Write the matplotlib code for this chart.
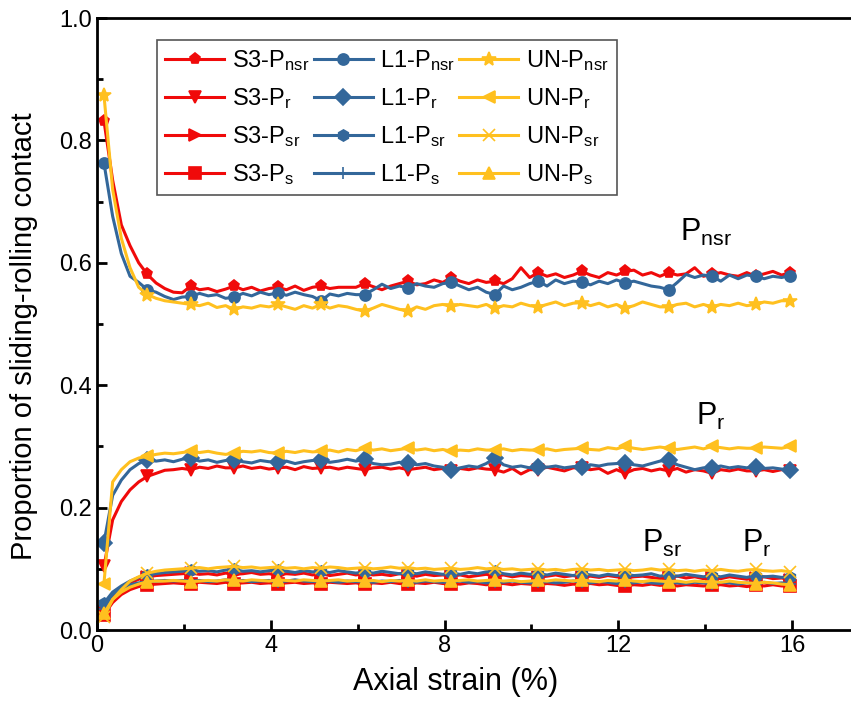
import numpy as np
import matplotlib
matplotlib.use("Agg")
import matplotlib.pyplot as plt
from matplotlib.ticker import MultipleLocator

plt.rcParams["font.family"] = ["Liberation Sans", "DejaVu Sans"]
plt.rcParams["mathtext.fontset"] = "custom"
plt.rcParams["mathtext.rm"] = "Liberation Sans"
plt.rcParams["mathtext.it"] = "Liberation Sans:italic"

# axial strain (%) sampling, 0.2 % steps
strain = np.round(0.16 + 0.2 * np.arange(80), 2)

# ---- S3 sample
s3_nsr = [0.832, 0.735, 0.662, 0.628, 0.600, 0.581, 0.567, 0.558, 0.552, 0.551,
          0.562, 0.556, 0.558, 0.553, 0.557, 0.562, 0.556, 0.560, 0.554, 0.558,
          0.560, 0.556, 0.562, 0.555, 0.560, 0.562, 0.558, 0.560, 0.560, 0.560,
          0.566, 0.561, 0.556, 0.562, 0.566, 0.570, 0.564, 0.566, 0.572, 0.568,
          0.576, 0.570, 0.566, 0.572, 0.568, 0.570, 0.566, 0.574, 0.592, 0.576,
          0.584, 0.578, 0.582, 0.576, 0.580, 0.586, 0.580, 0.576, 0.584, 0.580,
          0.586, 0.588, 0.580, 0.584, 0.578, 0.584, 0.580, 0.582, 0.592, 0.578,
          0.581, 0.584, 0.580, 0.578, 0.584, 0.578, 0.582, 0.586, 0.580, 0.584]
s3_r = [0.104, 0.180, 0.210, 0.229, 0.242, 0.251, 0.256, 0.261, 0.262, 0.264,
        0.262, 0.266, 0.264, 0.268, 0.265, 0.265, 0.268, 0.264, 0.266, 0.263,
        0.265, 0.266, 0.262, 0.267, 0.264, 0.265, 0.266, 0.263, 0.266, 0.264,
        0.262, 0.265, 0.266, 0.263, 0.265, 0.262, 0.264, 0.266, 0.262, 0.264,
        0.260, 0.264, 0.262, 0.265, 0.263, 0.262, 0.258, 0.264, 0.255, 0.262,
        0.262, 0.266, 0.263, 0.260, 0.265, 0.265, 0.262, 0.264, 0.256, 0.262,
        0.256, 0.262, 0.264, 0.260, 0.263, 0.260, 0.264, 0.258, 0.262, 0.260,
        0.256, 0.262, 0.260, 0.263, 0.260, 0.260, 0.262, 0.259, 0.262, 0.260]
s3_sr = [0.030, 0.055, 0.068, 0.077, 0.083, 0.087, 0.089, 0.090, 0.091, 0.092,
         0.093, 0.091, 0.092, 0.090, 0.093, 0.091, 0.092, 0.094, 0.091, 0.092,
         0.090, 0.092, 0.091, 0.093, 0.090, 0.092, 0.089, 0.091, 0.093, 0.090,
         0.092, 0.090, 0.091, 0.089, 0.092, 0.090, 0.088, 0.091, 0.089, 0.090,
         0.088, 0.090, 0.087, 0.089, 0.091, 0.088, 0.090, 0.087, 0.089, 0.088,
         0.086, 0.088, 0.090, 0.087, 0.089, 0.086, 0.088, 0.086, 0.089, 0.087,
         0.085, 0.087, 0.088, 0.086, 0.084, 0.086, 0.088, 0.085, 0.087, 0.084,
         0.086, 0.084, 0.087, 0.085, 0.083, 0.085, 0.087, 0.084, 0.085, 0.082]
s3_s = [0.025, 0.045, 0.058, 0.066, 0.071, 0.074, 0.075, 0.076, 0.077, 0.076,
        0.076, 0.078, 0.077, 0.076, 0.078, 0.076, 0.077, 0.078, 0.076, 0.077,
        0.076, 0.077, 0.078, 0.076, 0.077, 0.076, 0.078, 0.077, 0.076, 0.077,
        0.075, 0.077, 0.076, 0.078, 0.076, 0.075, 0.077, 0.076, 0.078, 0.076,
        0.076, 0.075, 0.077, 0.076, 0.074, 0.075, 0.076, 0.074, 0.076, 0.075,
        0.074, 0.076, 0.075, 0.073, 0.075, 0.074, 0.076, 0.074, 0.075, 0.073,
        0.072, 0.074, 0.073, 0.075, 0.073, 0.074, 0.072, 0.074, 0.073, 0.072,
        0.073, 0.074, 0.072, 0.073, 0.071, 0.073, 0.072, 0.074, 0.072, 0.072]

# ---- L1 sample
l1_nsr = [0.763, 0.676, 0.615, 0.578, 0.568, 0.556, 0.552, 0.545, 0.540, 0.544,
          0.545, 0.550, 0.546, 0.548, 0.542, 0.544, 0.550, 0.546, 0.552, 0.548,
          0.551, 0.547, 0.552, 0.548, 0.545, 0.538, 0.549, 0.546, 0.550, 0.548,
          0.548, 0.556, 0.565, 0.558, 0.562, 0.559, 0.566, 0.562, 0.560, 0.566,
          0.568, 0.562, 0.556, 0.560, 0.552, 0.548, 0.562, 0.556, 0.560, 0.566,
          0.570, 0.562, 0.572, 0.566, 0.570, 0.569, 0.564, 0.570, 0.566, 0.572,
          0.567, 0.570, 0.566, 0.562, 0.560, 0.556, 0.568, 0.581, 0.576, 0.580,
          0.578, 0.570, 0.580, 0.574, 0.580, 0.578, 0.574, 0.578, 0.576, 0.579]
l1_r = [0.143, 0.220, 0.245, 0.262, 0.272, 0.278, 0.276, 0.278, 0.275, 0.279,
        0.281, 0.276, 0.278, 0.274, 0.277, 0.278, 0.275, 0.273, 0.277, 0.275,
        0.274, 0.276, 0.272, 0.275, 0.277, 0.277, 0.274, 0.276, 0.279, 0.276,
        0.279, 0.272, 0.270, 0.271, 0.274, 0.273, 0.270, 0.272, 0.268, 0.266,
        0.262, 0.265, 0.268, 0.266, 0.272, 0.281, 0.270, 0.266, 0.268, 0.265,
        0.267, 0.266, 0.268, 0.265, 0.267, 0.267, 0.270, 0.268, 0.271, 0.272,
        0.273, 0.270, 0.268, 0.272, 0.276, 0.278, 0.270, 0.266, 0.262, 0.265,
        0.265, 0.268, 0.265, 0.267, 0.265, 0.267, 0.264, 0.265, 0.263, 0.262]
l1_sr = [0.044, 0.062, 0.072, 0.080, 0.086, 0.090, 0.092, 0.094, 0.095, 0.096,
         0.098, 0.096, 0.097, 0.095, 0.098, 0.099, 0.096, 0.097, 0.095, 0.097,
         0.098, 0.096, 0.094, 0.097, 0.095, 0.096, 0.094, 0.097, 0.095, 0.093,
         0.095, 0.093, 0.096, 0.094, 0.092, 0.094, 0.092, 0.095, 0.093, 0.091,
         0.093, 0.091, 0.094, 0.092, 0.095, 0.096, 0.092, 0.090, 0.093, 0.091,
         0.092, 0.090, 0.093, 0.091, 0.089, 0.092, 0.090, 0.088, 0.091, 0.089,
         0.091, 0.089, 0.090, 0.092, 0.088, 0.090, 0.088, 0.091, 0.089, 0.087,
         0.089, 0.087, 0.090, 0.088, 0.086, 0.089, 0.087, 0.088, 0.086, 0.087]
l1_s = [0.035, 0.058, 0.068, 0.074, 0.077, 0.079, 0.080, 0.081, 0.080, 0.081,
        0.080, 0.081, 0.079, 0.080, 0.082, 0.080, 0.081, 0.079, 0.080, 0.081,
        0.079, 0.080, 0.082, 0.080, 0.079, 0.081, 0.080, 0.078, 0.080, 0.079,
        0.080, 0.078, 0.080, 0.079, 0.081, 0.079, 0.078, 0.080, 0.079, 0.078,
        0.079, 0.080, 0.078, 0.079, 0.077, 0.079, 0.078, 0.080, 0.078, 0.077,
        0.078, 0.079, 0.077, 0.078, 0.080, 0.078, 0.077, 0.079, 0.078, 0.076,
        0.078, 0.077, 0.079, 0.077, 0.076, 0.078, 0.077, 0.076, 0.078, 0.077,
        0.076, 0.078, 0.077, 0.075, 0.077, 0.076, 0.078, 0.076, 0.077, 0.076]

# ---- UN sample
un_nsr = [0.874, 0.720, 0.640, 0.592, 0.560, 0.548, 0.542, 0.538, 0.536, 0.534,
          0.532, 0.530, 0.534, 0.527, 0.530, 0.524, 0.528, 0.526, 0.530, 0.528,
          0.532, 0.528, 0.524, 0.530, 0.526, 0.532, 0.526, 0.530, 0.528, 0.524,
          0.521, 0.526, 0.532, 0.528, 0.524, 0.521, 0.528, 0.524, 0.530, 0.532,
          0.529, 0.532, 0.530, 0.528, 0.532, 0.526, 0.530, 0.528, 0.534, 0.530,
          0.528, 0.532, 0.536, 0.530, 0.534, 0.535, 0.530, 0.534, 0.528, 0.532,
          0.526, 0.530, 0.536, 0.532, 0.528, 0.528, 0.532, 0.534, 0.528, 0.532,
          0.528, 0.532, 0.530, 0.534, 0.530, 0.532, 0.536, 0.534, 0.538, 0.538]
un_r = [0.076, 0.242, 0.262, 0.275, 0.281, 0.284, 0.287, 0.289, 0.288, 0.290,
        0.292, 0.290, 0.292, 0.289, 0.287, 0.289, 0.292, 0.291, 0.293, 0.290,
        0.289, 0.292, 0.290, 0.293, 0.291, 0.292, 0.294, 0.291, 0.295, 0.293,
        0.297, 0.294, 0.296, 0.293, 0.295, 0.297, 0.294, 0.296, 0.293, 0.295,
        0.292, 0.294, 0.293, 0.296, 0.294, 0.294, 0.296, 0.293, 0.295, 0.294,
        0.294, 0.296, 0.293, 0.295, 0.296, 0.297, 0.295, 0.294, 0.298, 0.296,
        0.300, 0.297, 0.295, 0.297, 0.299, 0.297, 0.295, 0.297, 0.299, 0.296,
        0.300, 0.298, 0.296, 0.298, 0.297, 0.297, 0.299, 0.298, 0.297, 0.300]
un_sr = [0.022, 0.050, 0.066, 0.080, 0.087, 0.093, 0.096, 0.098, 0.099, 0.100,
         0.101, 0.102, 0.100, 0.102, 0.103, 0.104, 0.102, 0.103, 0.101, 0.102,
         0.103, 0.101, 0.102, 0.100, 0.102, 0.101, 0.103, 0.102, 0.100, 0.101,
         0.102, 0.100, 0.101, 0.103, 0.101, 0.102, 0.100, 0.101, 0.099, 0.100,
         0.101, 0.099, 0.100, 0.102, 0.100, 0.101, 0.099, 0.100, 0.098, 0.099,
         0.100, 0.098, 0.099, 0.097, 0.099, 0.100, 0.098, 0.099, 0.097, 0.098,
         0.099, 0.097, 0.098, 0.100, 0.098, 0.099, 0.097, 0.098, 0.096, 0.098,
         0.097, 0.099, 0.097, 0.096, 0.098, 0.099, 0.097, 0.096, 0.097, 0.095]
un_s = [0.027, 0.050, 0.062, 0.070, 0.075, 0.079, 0.080, 0.080, 0.081, 0.080,
        0.079, 0.080, 0.081, 0.080, 0.082, 0.081, 0.080, 0.082, 0.081, 0.080,
        0.082, 0.081, 0.080, 0.082, 0.081, 0.080, 0.081, 0.082, 0.080, 0.081,
        0.080, 0.081, 0.079, 0.081, 0.080, 0.081, 0.080, 0.082, 0.080, 0.081,
        0.080, 0.081, 0.082, 0.080, 0.081, 0.082, 0.080, 0.081, 0.079, 0.080,
        0.081, 0.080, 0.082, 0.081, 0.080, 0.082, 0.080, 0.079, 0.081, 0.080,
        0.082, 0.080, 0.079, 0.081, 0.080, 0.079, 0.080, 0.078, 0.080, 0.079,
        0.079, 0.078, 0.080, 0.078, 0.077, 0.076, 0.078, 0.077, 0.075, 0.074]

RED, BLUE, GOLD = "#f00a0a", "#33679a", "#ffc01f"

series = [
    ("S3-$\\mathregular{P_{nsr}}$", s3_nsr, RED, "p"),
    ("S3-$\\mathregular{P_{r}}$", s3_r, RED, "v"),
    ("S3-$\\mathregular{P_{sr}}$", s3_sr, RED, ">"),
    ("S3-$\\mathregular{P_{s}}$", s3_s, RED, "s"),
    ("L1-$\\mathregular{P_{nsr}}$", l1_nsr, BLUE, "o"),
    ("L1-$\\mathregular{P_{r}}$", l1_r, BLUE, "D"),
    ("L1-$\\mathregular{P_{sr}}$", l1_sr, BLUE, "h"),
    ("L1-$\\mathregular{P_{s}}$", l1_s, BLUE, "+"),
    ("UN-$\\mathregular{P_{nsr}}$", un_nsr, GOLD, "*"),
    ("UN-$\\mathregular{P_{r}}$", un_r, GOLD, "<"),
    ("UN-$\\mathregular{P_{sr}}$", un_sr, GOLD, "x"),
    ("UN-$\\mathregular{P_{s}}$", un_s, GOLD, "^"),
]

fig = plt.figure(figsize=(8.51, 7.26), dpi=100)
ax = fig.add_axes([0.114, 0.1322, 0.906, 0.843])

marks = list(range(0, len(strain), 5)) + [len(strain) - 1]
for label, vals, col, mk in series:
    ms = 10 if mk == "*" else 8
    ax.plot(strain, vals, color=col, lw=2.2, marker=mk, ms=ms, mew=1.2,
            markevery=marks, label=label)

ax.set_xlim(0, 17.75)
ax.set_ylim(0, 1.0)
ax.xaxis.set_major_locator(MultipleLocator(4))
ax.xaxis.set_minor_locator(MultipleLocator(2))
ax.yaxis.set_major_locator(MultipleLocator(0.2))
ax.yaxis.set_minor_locator(MultipleLocator(0.1))
ax.yaxis.set_major_formatter(matplotlib.ticker.FormatStrFormatter("%.1f"))
ax.tick_params(which="both", direction="in", width=2, labelsize=17)
ax.tick_params(which="major", length=7)
ax.tick_params(which="minor", length=4)
for sp in ax.spines.values():
    sp.set_linewidth(2)

ax.set_xlabel("Axial strain (%)", fontsize=22)
ax.set_ylabel("Proportion of sliding-rolling contact", fontsize=21)
ax.xaxis.set_label_coords(0.465, -0.06)
ax.yaxis.set_label_coords(-0.077, 0.48)

# band labels
ax.text(13.42, 0.635, "$\\mathregular{P_{nsr}}$", fontsize=22)
ax.text(13.8, 0.335, "$\\mathregular{P_{r}}$", fontsize=22)
ax.text(12.54, 0.128, "$\\mathregular{P_{sr}}$", fontsize=22)
ax.text(14.84, 0.128, "$\\mathregular{P_{r}}$", fontsize=22)

leg = ax.legend(ncol=3, loc="upper left", bbox_to_anchor=(0.078, 0.964),
                borderaxespad=0, fontsize=17, handlelength=2.5,
                handletextpad=0.3, columnspacing=0.2, labelspacing=0.55,
                borderpad=0.35, fancybox=False, framealpha=1)
leg.get_frame().set_edgecolor("#555555")
leg.get_frame().set_linewidth(1.2)

fig.savefig("out.png", dpi=100)
